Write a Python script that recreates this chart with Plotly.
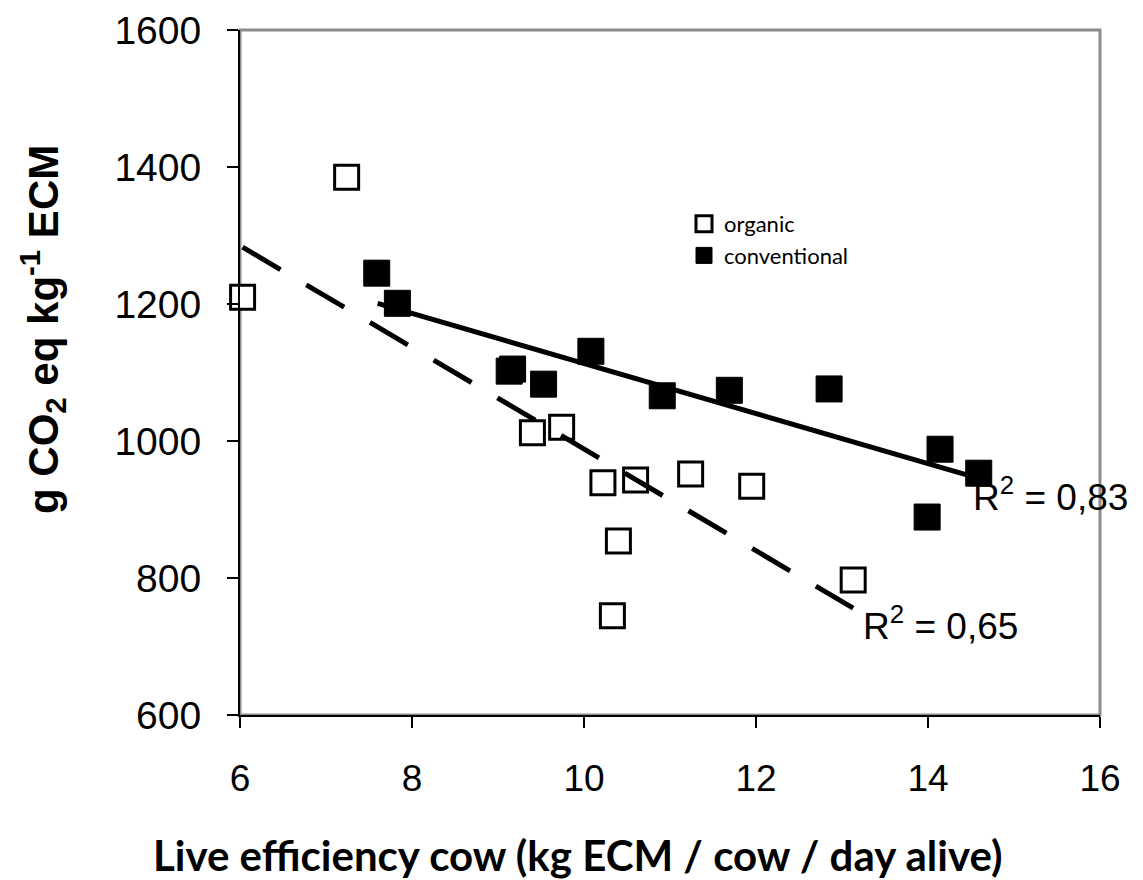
import plotly.graph_objects as go

# Organic farms (open squares)
organic_x = [6.03, 7.24, 9.40, 9.74, 10.22, 10.60, 11.24, 11.95, 10.40, 10.33, 13.13]
organic_y = [1210, 1385, 1012, 1020, 939, 943, 952, 934, 854, 745, 797]

# Conventional farms (filled squares)
conv_x = [7.59, 7.83, 9.13, 9.17, 9.53, 10.08, 10.91, 11.69, 12.85, 14.14, 14.59, 13.99]
conv_y = [1245, 1201, 1102, 1105, 1083, 1131, 1066, 1074, 1076, 988, 953, 889]

# Trend lines
organic_trend_x = [6.03, 13.13]
organic_trend_y = [1283, 756]
conv_trend_x = [7.6, 14.6]
conv_trend_y = [1201, 945]

x_ticks = [6, 8, 10, 12, 14, 16]
y_ticks = [600, 800, 1000, 1200, 1400, 1600]

# page body has an 8px margin; lay the figure out in screen pixels minus that offset
OFF = 8
W, H = 1143 - OFF, 880 - OFF
L, T = 240 - OFF, 30 - OFF
R = W - (1100 - OFF)
B = H - (715 - OFF)
PW, PH = W - L - R, H - T - B


def px(xs):
    return (xs - OFF - L) / PW


def py(ys):
    return (H - B - (ys - OFF)) / PH


fig = go.Figure()

fig.add_trace(go.Scatter(
    x=organic_x, y=organic_y, mode="markers", name="organic", cliponaxis=False,
    marker=dict(symbol="square", size=24, color="white",
                line=dict(color="black", width=3)),
))
fig.add_trace(go.Scatter(
    x=conv_x, y=conv_y, mode="markers", name="conventional", cliponaxis=False,
    marker=dict(symbol="square", size=26, color="black",
                line=dict(color="black", width=1)),
))
fig.add_trace(go.Scatter(
    x=organic_trend_x, y=organic_trend_y, mode="lines", showlegend=False,
    line=dict(color="black", width=5, dash="44px,30px"),
))
fig.add_trace(go.Scatter(
    x=conv_trend_x, y=conv_trend_y, mode="lines", showlegend=False,
    line=dict(color="black", width=5),
))

fig.add_shape(type="rect", xref="paper", yref="paper", x0=0, y0=0, x1=1, y1=1,
              line=dict(color="#8c8c8c", width=3), layer="below")

fig.update_xaxes(
    range=[6, 16], tickvals=x_ticks, ticks="outside", ticklen=11, tickwidth=2,
    tickcolor="black", showline=True, linecolor="black", linewidth=2,
    showgrid=False, zeroline=False, ticklabelstandoff=19, automargin=False,
    tickfont=dict(family="Liberation Sans, Arial", size=37, color="black"),
)
fig.update_yaxes(
    range=[600, 1600], tickvals=y_ticks, ticks="outside", ticklen=11, tickwidth=2,
    tickcolor="black", showline=True, linecolor="black", linewidth=2,
    showgrid=False, zeroline=False, ticklabelstandoff=18, automargin=False,
    tickfont=dict(family="Liberation Sans, Arial", size=39, color="black"),
)

fig.add_annotation(text="R<sup>2</sup> = 0,83", x=14.5, y=885, xref="x", yref="y",
                   xanchor="left", yanchor="bottom", showarrow=False,
                   font=dict(family="Liberation Sans, Arial", size=37, color="black"))
fig.add_annotation(text="R<sup>2</sup> = 0,65", x=13.22, y=697, xref="x", yref="y",
                   xanchor="left", yanchor="bottom", showarrow=False,
                   font=dict(family="Liberation Sans, Arial", size=37, color="black"))

fig.add_annotation(text="<b>g CO<sub>2</sub> eq kg<sup>-1</sup> ECM</b>", textangle=-90,
                   x=px(42), y=py(330), xref="paper", yref="paper", showarrow=False,
                   xanchor="center", yanchor="middle",
                   font=dict(family="Liberation Sans, Arial", size=42, color="black"))
fig.add_annotation(text="<b>Live efficiency cow (kg ECM / cow / day alive)</b>",
                   x=px(577), y=py(855), xref="paper", yref="paper", showarrow=False,
                   xanchor="center", yanchor="middle",
                   font=dict(family="Lato", size=42, color="black"))

fig.update_layout(
    width=W, height=H,
    margin=dict(l=L, r=R, t=T, b=B, autoexpand=False),
    plot_bgcolor="white", paper_bgcolor="white",
    showlegend=True,
    legend=dict(x=px(684), y=py(203), xanchor="left", yanchor="top",
                bgcolor="rgba(0,0,0,0)", font=dict(family="Lato", size=22, color="black"),
                itemsizing="trace", tracegroupgap=0),
)

fig.write_html("out.html")
